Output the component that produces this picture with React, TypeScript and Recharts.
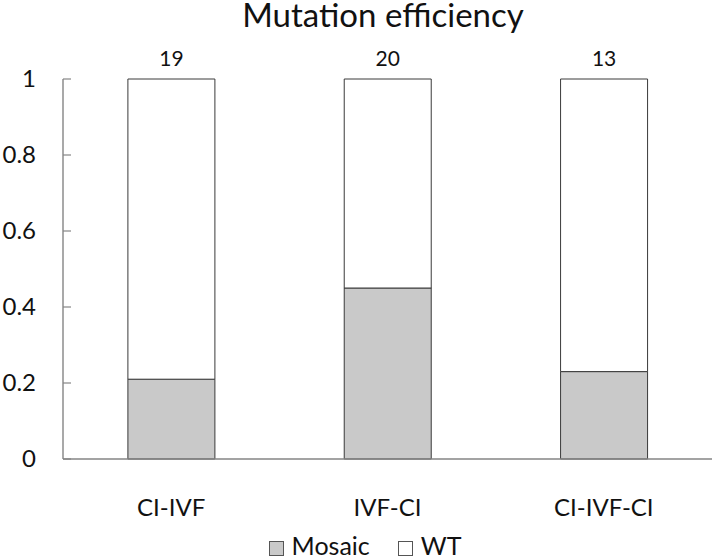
import { Bar, BarChart, LabelList, Legend, XAxis, YAxis } from "recharts"

const categories = ["CI-IVF", "IVF-CI", "CI-IVF-CI"]
const mosaic = [0.21, 0.45, 0.23]
const wt = [0.79, 0.55, 0.77]
const counts = [19, 20, 13]
const yTicks = [0, 0.2, 0.4, 0.6, 0.8, 1]

const FONT = "Lato, 'Noto Sans', sans-serif"
const AXIS = "#858585"
const EDGE = "#3a3a3a"
const GREY = "#c9c9c9"

const data = categories.map((name, i) => ({
  name,
  mosaic: mosaic[i],
  wt: wt[i],
  n: counts[i],
}))

// axis is mirrored so tick marks point into the plot; labels are pulled back to the left
function YTick({ x, y, payload }: any) {
  return (
    <text
      x={x - 35}
      y={y}
      dy={8}
      textAnchor="end"
      fontSize={24}
      fontFamily={FONT}
      fill="#111"
    >
      {payload.value}
    </text>
  )
}

function LegendBox() {
  const items = [
    { label: "Mosaic", color: GREY },
    { label: "WT", color: "#fff" },
  ]
  return (
    <div
      style={{
        height: 40,
        display: "flex",
        justifyContent: "center",
        alignItems: "flex-end",
        gap: 28,
        paddingRight: 45,
        boxSizing: "border-box",
        fontFamily: FONT,
        fontSize: 25,
        lineHeight: "normal",
        color: "#111",
      }}
    >
      {items.map((it) => (
        <div key={it.label} style={{ display: "flex", alignItems: "flex-end", gap: 8 }}>
          <span
            style={{
              width: 13,
              height: 13,
              marginBottom: 4,
              background: it.color,
              border: "1px solid #555",
              display: "inline-block",
            }}
          />
          <span>{it.label}</span>
        </div>
      ))}
    </div>
  )
}

export default function App() {
  return (
    <div style={{ position: "absolute", left: 0, top: 0, width: 712, height: 560, background: "#fff" }}>
      <div
        style={{
          position: "absolute",
          left: 0,
          top: -6,
          width: 766,
          textAlign: "center",
          fontFamily: FONT,
          fontSize: 33,
          lineHeight: "normal",
          color: "#111",
        }}
      >
        Mutation efficiency
      </div>
      <BarChart
        width={712}
        height={560}
        data={data}
        margin={{ top: 79, right: 0, bottom: 0, left: 63 }}
        barCategoryGap="30%"
      >
        <XAxis
          dataKey="name"
          height={61}
          stroke={AXIS}
          axisLine={{ stroke: AXIS, strokeWidth: 1.4 }}
          tickLine={false}
          tickMargin={34}
          tick={{ fontSize: 24, fontFamily: FONT, fill: "#111" }}
        />
        <YAxis
          mirror
          domain={[0, 1]}
          ticks={yTicks}
          interval={0}
          stroke={AXIS}
          axisLine={{ stroke: AXIS, strokeWidth: 1.4 }}
          tickLine={{ stroke: AXIS, strokeWidth: 1.2 }}
          tickSize={8}
          tickMargin={0}
          tick={<YTick />}
        />
        <Legend verticalAlign="bottom" content={<LegendBox />} />
        <Bar
          dataKey="mosaic"
          stackId="a"
          fill={GREY}
          stroke={EDGE}
          strokeWidth={1}
          isAnimationActive={false}
        />
        <Bar
          dataKey="wt"
          stackId="a"
          fill="#fff"
          stroke={EDGE}
          strokeWidth={1}
          isAnimationActive={false}
        >
          <LabelList
            dataKey="n"
            position="top"
            offset={13}
            fontSize={21}
            fontFamily={FONT}
            fill="#111"
          />
        </Bar>
      </BarChart>
    </div>
  )
}
